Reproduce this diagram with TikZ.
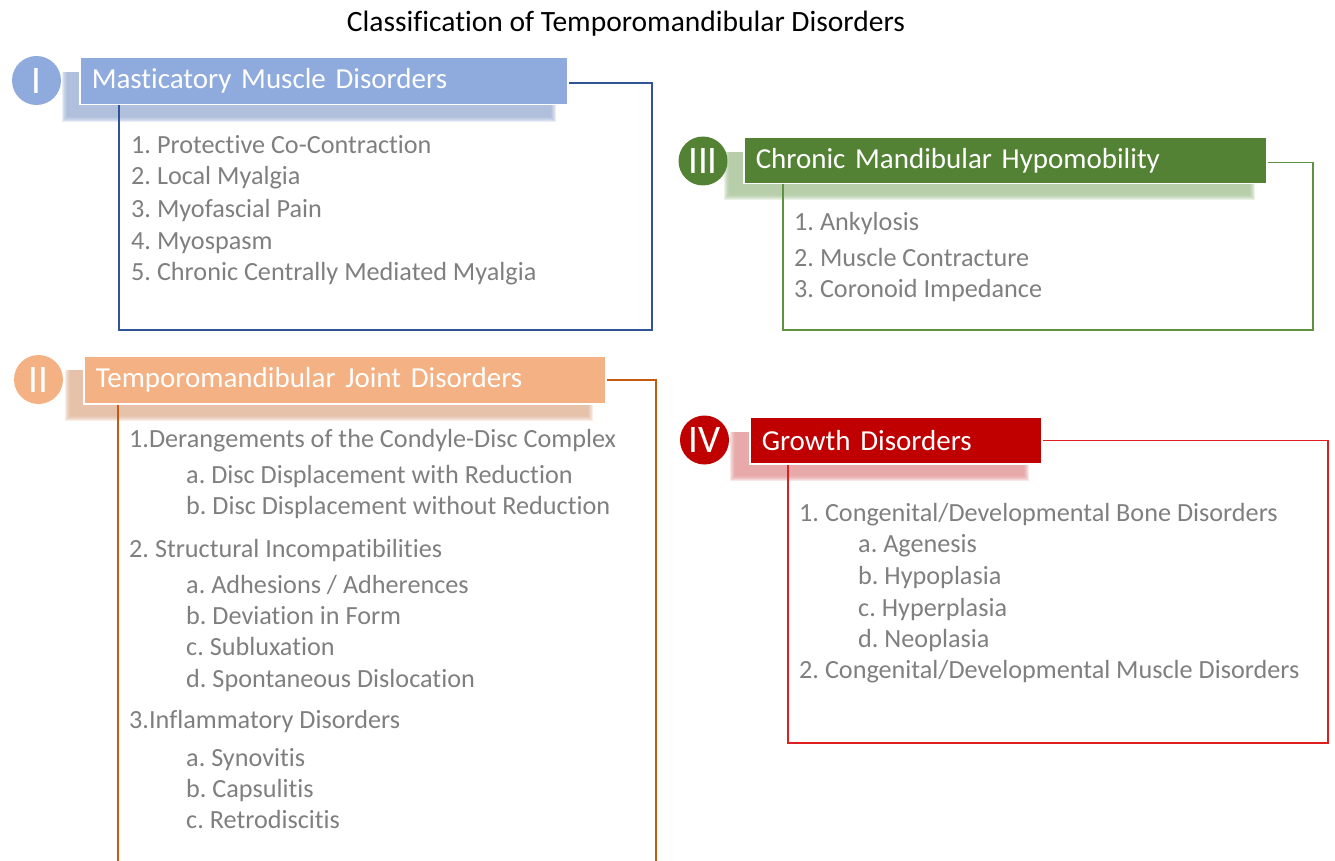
\documentclass[tikz,border=0pt]{standalone}
\usepackage{fontspec}
\setmainfont{Carlito}[Ligatures=NoCommon]
\frenchspacing

\definecolor{blueH}{HTML}{8FAADC}
\definecolor{blueL}{HTML}{2F5597}
\definecolor{blueS}{HTML}{98ACD2}
\definecolor{greenH}{HTML}{548235}
\definecolor{greenL}{HTML}{5E9140}
\definecolor{greenS}{HTML}{A3C092}
\definecolor{orangeH}{HTML}{F4B183}
\definecolor{orangeL}{HTML}{C55A11}
\definecolor{orangeS}{HTML}{DFB093}
\definecolor{redH}{HTML}{C00000}
\definecolor{redL}{HTML}{DD1F1F}
\definecolor{redS}{HTML}{E09090}
\definecolor{itemgray}{HTML}{7F7F7F}

\begin{document}
\begin{tikzpicture}[x=1pt,y=-1pt,
  hdr/.style={draw=white,line width=1.5pt,anchor=north west,text=white,align=left,
    inner xsep=12pt,inner ysep=0pt,font=\fontsize{29}{34}\selectfont},
  num/.style={circle,inner sep=0pt,minimum size=49pt,text=white,font=\fontsize{39}{40}\selectfont},
  item/.style={anchor=base west,inner sep=0pt,text=itemgray,font=\fontsize{26.2}{30}\selectfont},
  frame/.style={line width=1.5pt}]
  \useasboundingbox (0,0) rectangle (1335,861);

  \coordinate (brI) at (652,330);
  \coordinate (blI) at (119,330);
  \coordinate (brIII) at (1313,330);
  \coordinate (blIII) at (783,330);
  \coordinate (brII) at (656,861);
  \coordinate (blII) at (118,861);
  \coordinate (brIV) at (1328,743);
  \coordinate (blIV) at (788,743);

  \node[font=\fontsize{29.5}{34}\selectfont,anchor=base] (title) at (626,32) {Classification of Temporomandibular Disorders};

  % Blurred shadows under the headers
  \foreach \col/\xa/\ya/\xb/\yb in {blueS/65/72/553/119, greenS/727/152/1252/197,
      orangeS/68/370/590/418, redS/733/432/1026/478}
    \foreach \k in {0,...,5}
      \fill[\col,opacity=0.22] (\xa-3+\k,\ya) rectangle (\xb+3-\k,\yb+3-\k);

  % Headers
  \node[hdr,fill=blueH,minimum width=488pt,minimum height=47pt,text width=464pt] (hdrI) at (79,57) {Masticatory Muscle Disorders};
  \node[hdr,fill=greenH,minimum width=523pt,minimum height=46pt,text width=499pt] (hdrIII) at (743,137) {Chronic Mandibular Hypomobility};
  \node[hdr,fill=orangeH,minimum width=522pt,minimum height=48pt,text width=498pt] (hdrII) at (83,355) {Temporomandibular Joint Disorders};
  \node[hdr,fill=redH,minimum width=292pt,minimum height=47pt,text width=268pt] (hdrIV) at (749,416) {Growth Disorders};

  % Frames
  \draw[frame,blueL] ([yshift=-2pt]hdrI.east) -| (brI) -- (blI) -- (blI |- hdrI.south);
  \draw[frame,greenL] ([yshift=-2pt]hdrIII.east) -| (brIII) -- (blIII) -- (blIII |- hdrIII.south);
  \draw[frame,orangeL] (hdrII.east) -| (brII);
  \draw[frame,orangeL] (blII) -- (blII |- hdrII.south);
  \draw[frame,redL] (hdrIV.east) -| (brIV) -- (blIV) -- (blIV |- hdrIV.south);

  % Numbers
  \node[num,fill=blueH] (numI) at (36.5,80.5) {I};
  \node[num,fill=greenH] (numIII) at (703,161) {III};
  \node[num,fill=orangeH] (numII) at (38.5,379.5) {II};
  \node[num,fill=redH] (numIV) at (704.5,440) {IV};

  % Lists
  \foreach \x/\y/\t [count=\i] in {131/154/{1. Protective Co-Contraction}, 131/185/{2. Local Myalgia},
      131/217/{3. Myofascial Pain}, 131/249/{4. Myospasm}, 131/280/{5. Chronic Centrally Mediated Myalgia}}
    \node[item] (itI-\i) at (\x,\y) {\t};
  \foreach \x/\y/\t [count=\i] in {794/230/{1. Ankylosis}, 794/266/{2. Muscle Contracture},
      794/297/{3. Coronoid Impedance}}
    \node[item] (itIII-\i) at (\x,\y) {\t};
  \foreach \x/\y/\t [count=\i] in {129/447/{1.Derangements of the Condyle-Disc Complex},
      186/483/{a. Disc Displacement with Reduction}, 186/514/{b. Disc Displacement without Reduction},
      129/557/{2. Structural Incompatibilities}, 186/593/{a. Adhesions / Adherences},
      186/624/{b. Deviation in Form}, 186/655/{c. Subluxation}, 186/687/{d. Spontaneous Dislocation},
      129/728/{3.Inflammatory Disorders}, 186/766/{a. Synovitis}, 186/797/{b. Capsulitis},
      186/828/{c. Retrodiscitis}}
    \node[item] (itII-\i) at (\x,\y) {\t};
  \foreach \x/\y/\t [count=\i] in {799/521/{1. Congenital/Developmental Bone Disorders},
      858/552/{a. Agenesis}, 858/584/{b. Hypoplasia}, 858/616/{c. Hyperplasia}, 858/647/{d. Neoplasia},
      799/678/{2. Congenital/Developmental Muscle Disorders}}
    \node[item] (itIV-\i) at (\x,\y) {\t};
\end{tikzpicture}
\end{document}
